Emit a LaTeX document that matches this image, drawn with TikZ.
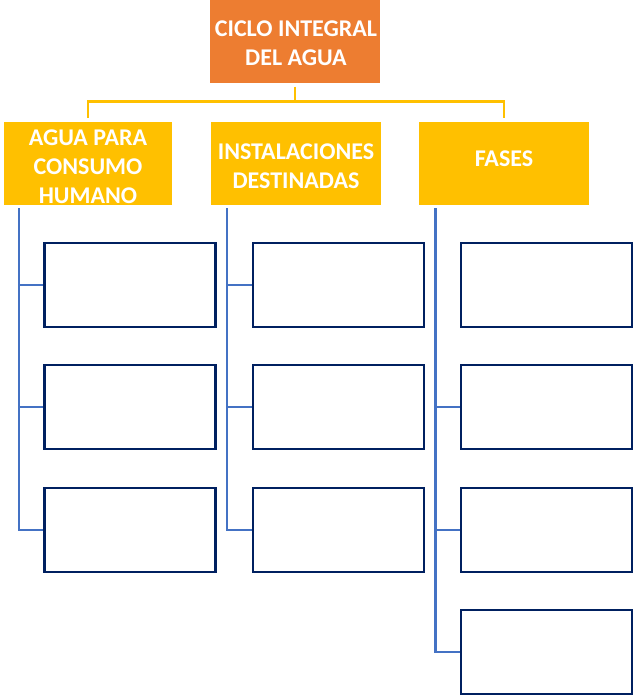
\documentclass[tikz,border=0pt]{standalone}
\usepackage{fontspec}
\setmainfont{Carlito}
\usepackage{xcolor}
\usetikzlibrary{positioning,calc}
\definecolor{orange}{HTML}{ED7D31}
\definecolor{gold}{HTML}{FFC000}
\definecolor{blue}{HTML}{4472C4}
\definecolor{navy}{HTML}{002060}

\begin{document}
\begin{tikzpicture}[x=1pt,y=-1pt,
  head/.style={fill=#1,inner sep=0pt,minimum width=170pt,minimum height=83pt},
  title/.style={text=white,font=\fontsize{24}{29}\selectfont\bfseries,align=center,inner sep=0pt},
  slot/.style={draw=navy,line width=2.7pt,fill=white,inner sep=0pt,minimum width=171pt,minimum height=84pt},
  trunk/.style={draw=gold,line width=2.5pt},
  spine/.style={draw=blue,line width=2.5pt}]
\useasboundingbox (0,0) rectangle (634,697);
% top and second level
\node[head=orange] (top) at (295,41) {};
\node[head=gold,minimum width=168pt] (agua) at (88,163.5) {};
\node[head=gold] (inst) at (296,163.5) {};
\node[head=gold] (fases) at (504,163.5) {};
\node[title] (topt) at (296,43) {CICLO INTEGRAL\\DEL AGUA};
\node[title] (aguat) at (88,167) {AGUA PARA\\CONSUMO\\HUMANO};
\node[title] (instt) at (296,166) {INSTALACIONES\\DESTINADAS};
\node[title] (fasest) at (504,159) {FASES};
\draw[trunk] ([yshift=-4pt]top.south) -- ++(0,15) coordinate (mid);
\draw[trunk] ([yshift=4pt]agua.north) |- (mid) -| ([yshift=4pt]fases.north);
% empty slots
\foreach \i/\y in {1/285,2/407,3/530} {
  \node[slot] (a\i) at (130,\y) {};
  \node[slot] (i\i) at (338.5,\y) {};
}
\foreach \i/\y in {1/285,2/407,3/530,4/652}
  \node[slot] (f\i) at (546.5,\y) {};
% spines
\coordinate (sa) at (19,208);
\coordinate (si) at (227,208);
\coordinate (sf) at (435.5,208);
\draw[spine] (sa) |- (a3.west);
\draw[spine] (a1.west) -- (a1.west -| sa);
\draw[spine] (a2.west) -- (a2.west -| sa);
\draw[spine] (si) |- (i3.west);
\draw[spine] (i1.west) -- (i1.west -| si);
\draw[spine] (i2.west) -- (i2.west -| si);
\draw[spine] (sf) |- (f4.west);
\draw[spine] (f2.west) -- (f2.west -| sf);
\draw[spine] (f3.west) -- (f3.west -| sf);
\end{tikzpicture}
\end{document}
